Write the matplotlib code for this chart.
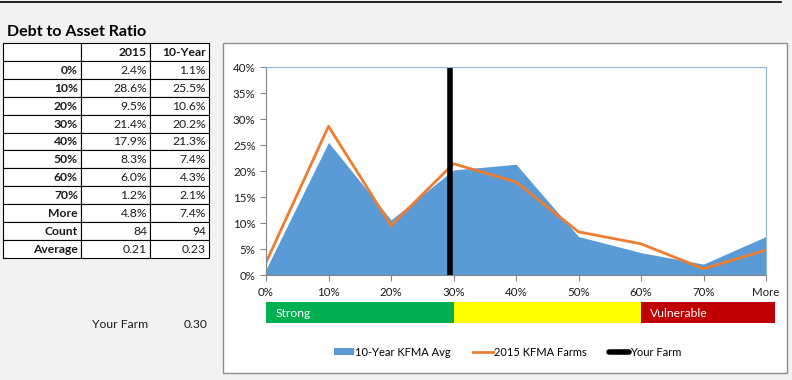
import matplotlib.pyplot as plt
from matplotlib.patches import Rectangle, Patch
from matplotlib.lines import Line2D
from matplotlib.ticker import FuncFormatter

plt.rcParams['font.family'] = ['Lato', 'DejaVu Sans']

# =============================================================================
# Datos
# =============================================================================
categories = ['0%', '10%', '20%', '30%', '40%', '50%', '60%', '70%', 'More']
ten_year = [1.1, 25.5, 10.6, 20.2, 21.3, 7.4, 4.3, 2.1, 7.4]
y2015 = [2.4, 28.6, 9.5, 21.4, 17.9, 8.3, 6.0, 1.2, 4.8]
count = [84, 94]
average = [0.21, 0.23]
your_farm = 0.30
bands = [(0.0, 0.30, '#00b050', 'Strong'),
         (0.30, 0.60, '#ffff00', ''),
         (0.60, 0.815, '#c00000', 'Vulnerable')]

W, H = 792, 380
fig = plt.figure(figsize=(W / 100, H / 100), dpi=100)
fig.patch.set_facecolor('#f2f2f2')

# capa en pixeles para tabla, marco, textos
bg = fig.add_axes([0, 0, 1, 1])
bg.set_xlim(0, W)
bg.set_ylim(H, 0)
bg.axis('off')
bg.plot([0, 781], [2, 2], color='black', lw=1.2)

# tabla
bg.text(7, 32, 'Debt to Asset Ratio', fontsize=11.5, fontweight='bold', va='center')
cols = [3, 81, 150, 209]
top, rh = 43, 17.9
rows = [['', '2015', '10-Year']]
for c, a, b in zip(categories, y2015, ten_year):
    rows.append([c, f'{a:.1f}%', f'{b:.1f}%'])
rows.append(['Count', str(count[0]), str(count[1])])
rows.append(['Average', f'{average[0]:.2f}', f'{average[1]:.2f}'])
for i, r in enumerate(rows):
    y0 = top + i * rh
    for j in range(3):
        bg.add_patch(Rectangle((cols[j], y0), cols[j + 1] - cols[j], rh,
                               facecolor='white', edgecolor='black', lw=0.8))
        bold = (j == 0 or i == 0)
        bg.text(cols[j + 1] - 3, y0 + rh / 2 + 0.5, r[j], ha='right', va='center',
                fontsize=8.7, fontweight='bold' if bold else 'normal', color='#1a1a1a')

bg.text(92, 325, 'Your Farm', fontsize=8.7, va='center', color='#1a1a1a')
bg.text(207, 325, f'{your_farm:.2f}', fontsize=8.7, va='center', ha='right', color='#1a1a1a')

# marco del grafico
bg.add_patch(Rectangle((223, 43), 564, 330, facecolor='white', edgecolor='#8c8c8c', lw=1))

# =============================================================================
# Grafico
# =============================================================================
x = list(range(len(categories)))
ax = fig.add_axes([266 / W, 1 - 275 / H, 500 / W, 208 / H])
ax.set_facecolor('white')
ax.fill_between(x, 0, ten_year, color='#5b9bd5', lw=0)
ax.plot(x, y2015, color='#ed7d31', lw=2)
ax.plot([your_farm * 10 - 0.05] * 2, [0, 40], color='black', lw=4, solid_capstyle='butt')
ax.set_xlim(0, 8)
ax.set_ylim(0, 40)
ax.set_yticks(range(0, 41, 5))
ax.yaxis.set_major_formatter(FuncFormatter(lambda v, p: f'{v:.0f}%'))
ax.set_xticks(x)
ax.set_xticklabels(categories)
ax.tick_params(axis='both', labelsize=8.3, color='#868686', length=4, labelcolor='#1a1a1a')
ax.tick_params(axis='x', pad=5)
for s in ['left', 'bottom']:
    ax.spines[s].set_color('#868686')
for s in ['top', 'right']:
    ax.spines[s].set_color('#8eb4d9')

# barra de colores
band_ax = fig.add_axes([266 / W, 1 - 323 / H, 500 / W, 21 / H])
band_ax.set_xlim(0, 8)
band_ax.set_ylim(0, 1)
band_ax.axis('off')
for a, b, col, lab in bands:
    band_ax.add_patch(Rectangle((a * 10, 0), (b - a) * 10, 1, facecolor=col,
                                edgecolor='none', clip_on=False))
    if lab:
        band_ax.text(a * 10 + 0.15, 0.45, lab, color='white', fontsize=8.7, va='center')

handles = [Patch(facecolor='#5b9bd5', edgecolor='none'),
           Line2D([], [], color='#ed7d31', lw=2),
           Line2D([], [], color='black', lw=4, solid_capstyle='round')]
fig.legend(handles, ['10-Year KFMA Avg', '2015 KFMA Farms', 'Your Farm'],
           loc='center', bbox_to_anchor=(508 / W, 1 - 352 / H), ncol=3, frameon=False,
           fontsize=8, handlelength=1.8, handletextpad=0.1, columnspacing=2.0,
           handleheight=0.5)

fig.savefig('out.png', dpi=100, facecolor=fig.get_facecolor())
